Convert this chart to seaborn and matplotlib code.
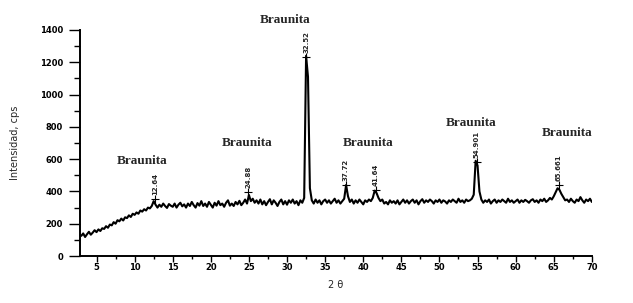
import numpy as np
import pandas as pd
import matplotlib
matplotlib.use("Agg")
import matplotlib.pyplot as plt
import seaborn as sns
from matplotlib.ticker import MultipleLocator

# 2-theta grid (step 0.25 deg) and read-off intensities
two_theta = np.arange(3.0, 70.0001, 0.25)
intensity = [
    125, 140, 118, 135,
    150, 132, 145, 160,
    148, 165, 155, 172,
    168, 185, 175, 195,
    190, 210, 200, 222,
    215, 232, 220, 240,
    235, 252, 242, 262,
    255, 270, 262, 282,
    275, 290, 282, 300,
    295, 310, 340, 318,
    300, 318, 305, 325,
    310, 298, 322, 312,
    305, 325, 300, 318,
    330, 308, 320, 300,
    325, 310, 335, 315,
    300, 328, 312, 340,
    310, 325, 305, 335,
    318, 300, 330, 312,
    340, 315, 325, 305,
    330, 345, 312, 325,
    310, 335, 320, 342,
    315, 330, 350, 325,
    378, 340, 355, 330,
    345, 325, 350, 320,
    340, 315, 335, 352,
    320, 345, 330, 310,
    335, 350, 320, 340,
    318, 345, 330, 350,
    325, 340, 315, 345,
    330, 360, 1240, 1110,
    420, 345, 325, 350,
    330, 345, 320, 340,
    350, 330, 345, 325,
    340, 355, 330, 345,
    325, 340, 355, 440,
    370, 335, 350, 325,
    345, 330, 350, 335,
    320, 345, 335, 350,
    340, 360, 405, 390,
    360, 340, 350, 325,
    335, 320, 345, 330,
    340, 325, 345, 320,
    335, 350, 330, 345,
    325, 340, 350, 330,
    345, 320, 340, 352,
    330, 345, 335, 350,
    340, 325, 345, 335,
    350, 330, 345, 338,
    325, 345, 335, 350,
    340, 330, 355, 335,
    345, 330, 350, 340,
    345, 355, 380, 590,
    560, 400, 350, 330,
    345, 335, 350, 325,
    340, 350, 330, 345,
    335, 350, 340, 330,
    355, 335, 345, 330,
    340, 350, 330, 345,
    335, 348, 340, 330,
    345, 352, 335, 345,
    330, 350, 340, 355,
    335, 345, 360, 350,
    370, 395, 420, 410,
    385, 365, 345, 350,
    335, 355, 340, 330,
    350, 340, 365, 345,
    330, 350, 340, 355,
    335,
]

# peak markers
peak_x = [12.64, 24.88, 32.52, 37.72, 41.64, 54.901, 65.661]
peak_y = [353, 396, 1233, 440, 408, 582, 440]
peak_labels = ["12.64", "24.88", "32.52", "37.72", "41.64", "54.901", "65.661"]

# phase labels
phase_x = [11.0, 24.7, 29.7, 40.7, 54.1, 66.7]
phase_y = [588, 700, 1461, 700, 823, 761]
phase_labels = ["Braunita"] * 6

df = pd.DataFrame({"two_theta": two_theta, "intensity": intensity})

sns.set_style("ticks")
fig = plt.figure(figsize=(6.33, 3.03), dpi=100)
ax = fig.add_axes([0.126, 0.155, 0.809, 0.746])

sns.lineplot(data=df, x="two_theta", y="intensity", ax=ax,
             color="black", linewidth=1.5)

ax.plot(peak_x, peak_y, linestyle="none", marker="+", color="black",
        markersize=6, markeredgewidth=0.8)
for px, py, lab in zip(peak_x, peak_y, peak_labels):
    ax.annotate(lab, (px, py), xytext=(0, 3), textcoords="offset points",
                rotation=90, ha="center", va="bottom", fontsize=5,
                fontweight="bold", family="DejaVu Sans")

for tx, ty, lab in zip(phase_x, phase_y, phase_labels):
    ax.text(tx, ty, lab, ha="center", va="center", fontsize=9.5,
            fontweight="bold", family="Liberation Serif", clip_on=False)

ax.set_xlim(2.8, 70)
ax.set_ylim(0, 1400)
ax.set_xticks(np.arange(5, 71, 5))
ax.xaxis.set_minor_locator(MultipleLocator(2.5))
ax.yaxis.set_major_locator(MultipleLocator(200))
ax.yaxis.set_minor_locator(MultipleLocator(100))
ax.tick_params(axis="both", which="major", labelsize=6, length=4, width=1,
               color="black", labelcolor="black")
ax.tick_params(axis="x", which="major", pad=1)
ax.tick_params(axis="both", which="minor", length=2, width=1, color="black")
ax.tick_params(axis="y", which="major", length=8, pad=4)
ax.tick_params(axis="y", which="minor", length=4)
for lbl in ax.get_xticklabels() + ax.get_yticklabels():
    lbl.set_fontweight("bold")

for side in ["top", "right"]:
    ax.spines[side].set_visible(False)
for side in ["left", "bottom"]:
    ax.spines[side].set_linewidth(1.4)
    ax.spines[side].set_color("black")

ax.set_xlabel("2 θ", fontsize=7, labelpad=6)
ax.set_ylabel("Intensidad, cps", fontsize=7, labelpad=14)

fig.savefig("out.png", dpi=100)
